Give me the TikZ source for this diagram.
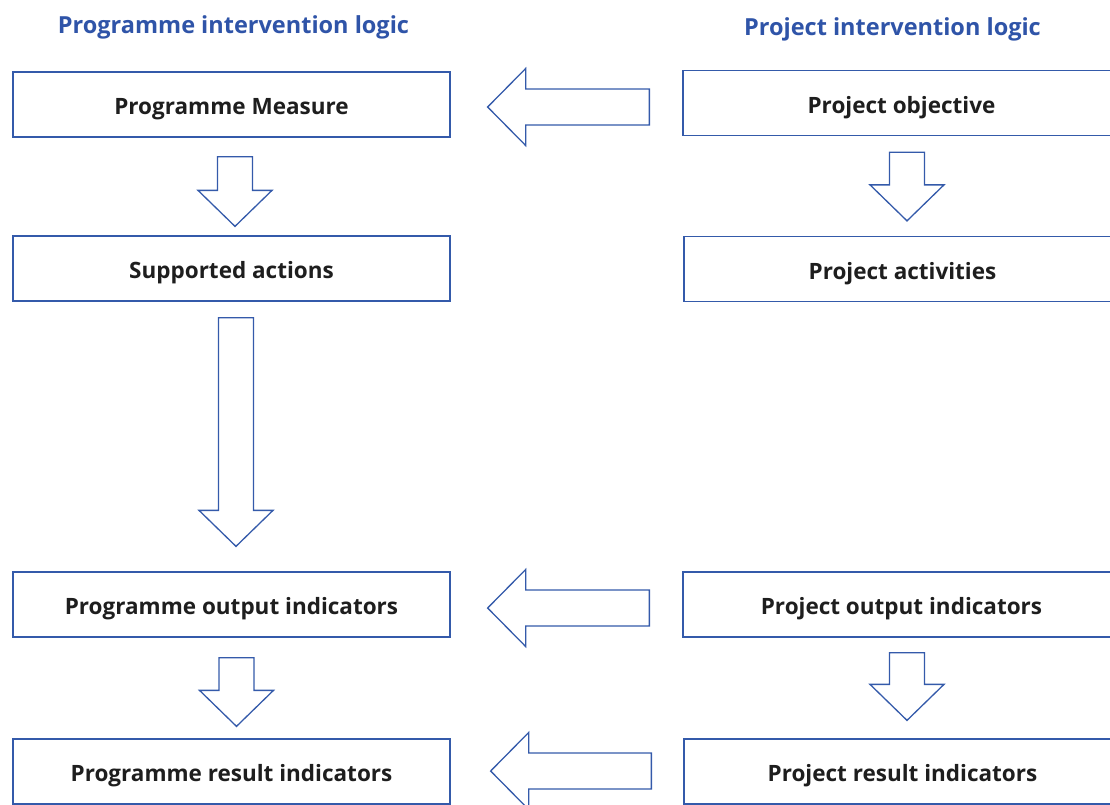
\documentclass[tikz,border=0pt]{standalone}
\usepackage{fontspec}
\setmainfont{Open Sans}
\usetikzlibrary{positioning, calc}
\definecolor{logicblue}{RGB}{47,84,168}
\definecolor{boxblue}{RGB}{52,90,170}
\definecolor{textgrey}{RGB}{30,30,30}

\tikzset{
  logicbox/.style={draw=boxblue, line width=1.3pt, fill=white, minimum width=437pt, minimum height=65pt, inner sep=0pt, text height=20pt, text depth=0pt, text=textgrey, font=\fontsize{22.5}{27}\selectfont\bfseries},
  logictitle/.style={anchor=base, text=logicblue, font=\fontsize{23.5}{28}\selectfont\bfseries},
  blockline/.style={draw=boxblue, line width=1.3pt, line join=miter, fill=white}
}

% hollow block arrow pointing down, from one box to the next
\newcommand{\downblock}[5]{%
  \draw[blockline] let \p1=($(#1.south)+(#3,#4)$), \p2=($(#2.north)+(#3,-#5)$) in
    (\x1-17.5pt,\y1) -- (\x1+17.5pt,\y1) -- (\x1+17.5pt,\y2+36pt) -- (\x1+37pt,\y2+36pt)
    -- (\x1,\y2) -- (\x1-37pt,\y2+36pt) -- (\x1-17.5pt,\y2+36pt) -- cycle;}
% hollow block arrow pointing left, from project box to programme box
\newcommand{\leftblock}[5]{%
  \draw[blockline] let \p1=($(#1.west)+(-#4,#3)$), \p2=($(#2.east)+(#5,#3)$) in
    (\x1,\y1+18pt) -- (\x2+38pt,\y1+18pt) -- (\x2+38pt,\y1+38.5pt) -- (\x2,\y1)
    -- (\x2+38pt,\y1-38.5pt) -- (\x2+38pt,\y1-18pt) -- (\x1,\y1-18pt) -- cycle;}

\begin{document}
\begin{tikzpicture}[x=1pt, y=-1pt]
\path[use as bounding box, clip] (0,0) rectangle (1110,804);

% titles
\node[logictitle] (progtitle) at (233.5,33.3) {Programme intervention logic};
\node[logictitle] (projtitle) at (892.5,35) {Project intervention logic};

% programme side
\node[logicbox] (measure) at (231.5,104.5) {Programme Measure};
\node[logicbox] (actions) at (231.5,268.5) {Supported actions};
\node[logicbox] (progout) at (231.5,604.5) {Programme output indicators};
\node[logicbox] (progres) at (231.5,771.5) {Programme result indicators};

% project side
\node[logicbox] (objective) at (901.5,103) {Project objective};
\node[logicbox] (activities) at (902.5,269) {Project activities};
\node[logicbox] (projout) at (901.5,604.5) {Project output indicators};
\node[logicbox] (projres) at (902.5,771.5) {Project result indicators};

% down arrows
\downblock{measure}{actions}{3.5}{19}{9}
\downblock{actions}{progout}{4.5}{16}{25}
\downblock{progout}{progres}{5}{20}{12}
\downblock{objective}{activities}{5.5}{16}{15}
\downblock{projout}{projres}{5.5}{15}{18}

% left arrows
\leftblock{objective}{measure}{4}{33}{37}
\leftblock{projout}{progout}{3.5}{33}{37}
\leftblock{projres}{progres}{-0.5}{32}{40}
\end{tikzpicture}
\end{document}
